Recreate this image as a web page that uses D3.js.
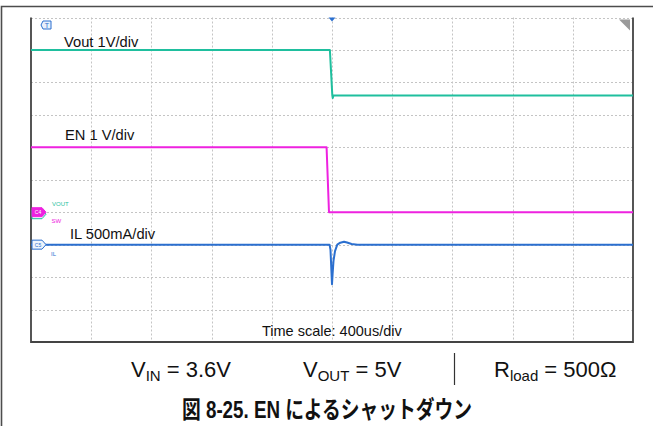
<!DOCTYPE html>
<html>
<head>
<meta charset="utf-8">
<script src="https://cdn.jsdelivr.net/npm/d3@7"></script>
<style>
  html, body { margin: 0; padding: 0; background: #fff; }
  svg { display: block; }
  text { font-family: "Liberation Sans", Arial, "Noto Sans CJK JP", sans-serif; }
</style>
</head>
<body>
<svg id="chart" width="653" height="426"></svg>
<script>
// Time axis: 400 us/div, 10 divisions, trigger at centre
const timeDomainUs = [-2000, 2000];
const timeDivUs = 400;
const verticalDivs = 10;

// Channel settings: scale per division and ground position (in divisions from bottom)
const channelNames = ["Vout 1V/div", "EN 1 V/div", "IL 500mA/div"];
const channelPerDiv = [1, 1, 500];
const channelGroundDiv = [4, 4, 3];
const channelColors = ["#1fbf9e", "#ee22e0", "#2b6fcf"];

// Vout (V)
const voutT = [-2000, -14, 2, 5, 10, 2000];
const voutV = [5.0, 5.0, 3.6, 3.52, 3.6, 3.6];

// EN (V)
const enT = [-2000, -36, -20, 2000];
const enV = [2.0, 2.0, 0.0, 0.0];

// Inductor current IL (mA)
const ilT = [-2000, -16, -10, -4, 0, 4, 10, 20, 35, 55, 80, 100, 130, 170, 2000];
const ilMA = [0, 0, -80, -400, -610, -450, -250, -100, 0, 30, 45, 32, 10, 0, 0];

// Parameter line and caption
const paramLabels = [
  { main: "V", sub: "IN", rest: " = 3.6V" },
  { main: "V", sub: "OUT", rest: " = 5V" },
  { main: "R", sub: "load", rest: " = 500Ω" }
];
const timeLabel = "Time scale: 400us/div";
const caption = "図 8-25. EN によるシャットダウン";

const svg = d3.select("#chart");

// Outer frame (left and top edges)
svg.append("path")
  .attr("d", "M1.5,426 L1.5,6.5 L653,6.5")
  .attr("fill", "none").attr("stroke", "#4d4d4d").attr("stroke-width", 1.6);

const plot = { left: 31, right: 633, top: 17.5, bottom: 342 };
const x = d3.scaleLinear().domain(timeDomainUs).range([plot.left, plot.right]);
const y = d3.scaleLinear().domain([0, verticalDivs]).range([plot.bottom, plot.top]);

// Dotted graticule
const gridG = svg.append("g");
const vTicks = d3.range(timeDomainUs[0] + timeDivUs, timeDomainUs[1], timeDivUs);
gridG.selectAll("line.v").data(vTicks).join("line")
  .attr("x1", d => Math.round(x(d)) + 0.5).attr("x2", d => Math.round(x(d)) + 0.5)
  .attr("y1", plot.top).attr("y2", plot.bottom)
  .attr("stroke", "#c4c4c4").attr("stroke-width", 1).attr("stroke-dasharray", "2,2");
const hTicks = d3.range(1, verticalDivs + 1);
gridG.selectAll("line.h").data(hTicks).join("line")
  .attr("x1", plot.left).attr("x2", plot.right)
  .attr("y1", d => Math.round(y(d)) + 0.5).attr("y2", d => Math.round(y(d)) + 0.5)
  .attr("stroke", "#c4c4c4").attr("stroke-width", 1).attr("stroke-dasharray", "2,2");

// Plot frame: solid left, bottom and right edges
svg.append("path")
  .attr("d", `M${plot.left},${plot.top} L${plot.left},${plot.bottom} L${plot.right},${plot.bottom} L${plot.right},${plot.top}`)
  .attr("fill", "none").attr("stroke", "#444").attr("stroke-width", 1.8);

// Traces
function toDiv(ch, v) { return channelGroundDiv[ch] + v / channelPerDiv[ch]; }
const line = ch => d3.line().x(d => x(d[0])).y(d => y(toDiv(ch, d[1])));
const traces = [d3.zip(voutT, voutV), d3.zip(enT, enV), d3.zip(ilT, ilMA)];
traces.forEach((pts, ch) => {
  svg.append("path").datum(pts)
    .attr("d", line(ch))
    .attr("fill", "none")
    .attr("stroke", channelColors[ch])
    .attr("stroke-width", 2)
    .attr("stroke-linejoin", "round");
});

// Trigger position marker at top
const tx = x(0);
svg.append("path")
  .attr("d", `M${tx - 3.5},${plot.top} L${tx + 3.5},${plot.top} L${tx},${plot.top + 4}Z`)
  .attr("fill", "#2b6fcf");

// Trigger level icon (top left)
const trig = svg.append("g").attr("transform", "translate(41,21)");
trig.append("path").attr("d", "M2,0 H10 V8 H2 L0,4 Z")
  .attr("fill", "#e8f0fb").attr("stroke", "#2b6fcf").attr("stroke-width", 1);
trig.append("text").attr("x", 6).attr("y", 6.8).attr("text-anchor", "middle")
  .attr("font-size", 7).attr("fill", "#2b6fcf").text("T");

// Zoom corner icon (top right)
svg.append("path")
  .attr("d", `M${plot.right - 14},${plot.top + 2} L${plot.right - 3},${plot.top + 2} L${plot.right - 3},${plot.top + 13} Z`)
  .attr("fill", "#9a9a9a");

// Channel ground markers on the left edge
function chanMarker(yPos, fill, stroke, label, textColor) {
  const g = svg.append("g").attr("transform", `translate(${plot.left + 1},${yPos})`);
  g.append("path").attr("d", "M0,-4.5 H10 L14,0 L10,4.5 H0 Z")
    .attr("fill", fill).attr("stroke", stroke).attr("stroke-width", 1);
  g.append("text").attr("x", 6).attr("y", 2).attr("text-anchor", "middle")
    .attr("font-size", 5).attr("fill", textColor).text(label);
}
const gVout = y(channelGroundDiv[0]);
const gIL = y(channelGroundDiv[2]);
// Vout marker sits just behind the EN marker
chanMarker(gVout + 2, "#fff", channelColors[0], "", channelColors[0]);
chanMarker(gVout, channelColors[1], channelColors[1], "C4", "#fff");
chanMarker(gIL, "#eef4fc", channelColors[2], "C5", channelColors[2]);

svg.append("text").attr("x", 52).attr("y", gVout - 6).attr("font-size", 6)
  .attr("fill", channelColors[0]).text("VOUT");
svg.append("text").attr("x", 51.5).attr("y", gVout + 11).attr("font-size", 6)
  .attr("fill", channelColors[1]).text("SW");
svg.append("text").attr("x", 51).attr("y", gIL + 11).attr("font-size", 6)
  .attr("fill", channelColors[2]).text("IL");

// Channel scale labels
const labelPos = [[64, 46.5], [65, 139.5], [70, 239]];
channelNames.forEach((t, i) => {
  svg.append("text").attr("x", labelPos[i][0]).attr("y", labelPos[i][1])
    .attr("font-size", 14.7).attr("fill", "#111").text(t);
});

// Time scale label
svg.append("text").attr("x", 262).attr("y", 336)
  .attr("font-size", 14.5).attr("fill", "#111").text(timeLabel);

// Test conditions
const paramX = [131, 303, 494];
paramLabels.forEach((p, i) => {
  const t = svg.append("text").attr("x", paramX[i]).attr("y", 377)
    .attr("font-size", 22).attr("fill", "#111");
  t.append("tspan").text(p.main);
  t.append("tspan").attr("font-size", 15).attr("dy", 4).text(p.sub);
  t.append("tspan").attr("dy", -4).text(p.rest);
});
svg.append("line").attr("x1", 454.5).attr("x2", 454.5).attr("y1", 353).attr("y2", 385)
  .attr("stroke", "#333").attr("stroke-width", 1.2);

// Figure caption
svg.append("text").attr("x", 182).attr("y", 418)
  .attr("font-size", 24).attr("font-weight", "bold").attr("fill", "#111")
  .attr("textLength", 290).attr("lengthAdjust", "spacingAndGlyphs")
  .text(caption);
</script>
</body>
</html>
